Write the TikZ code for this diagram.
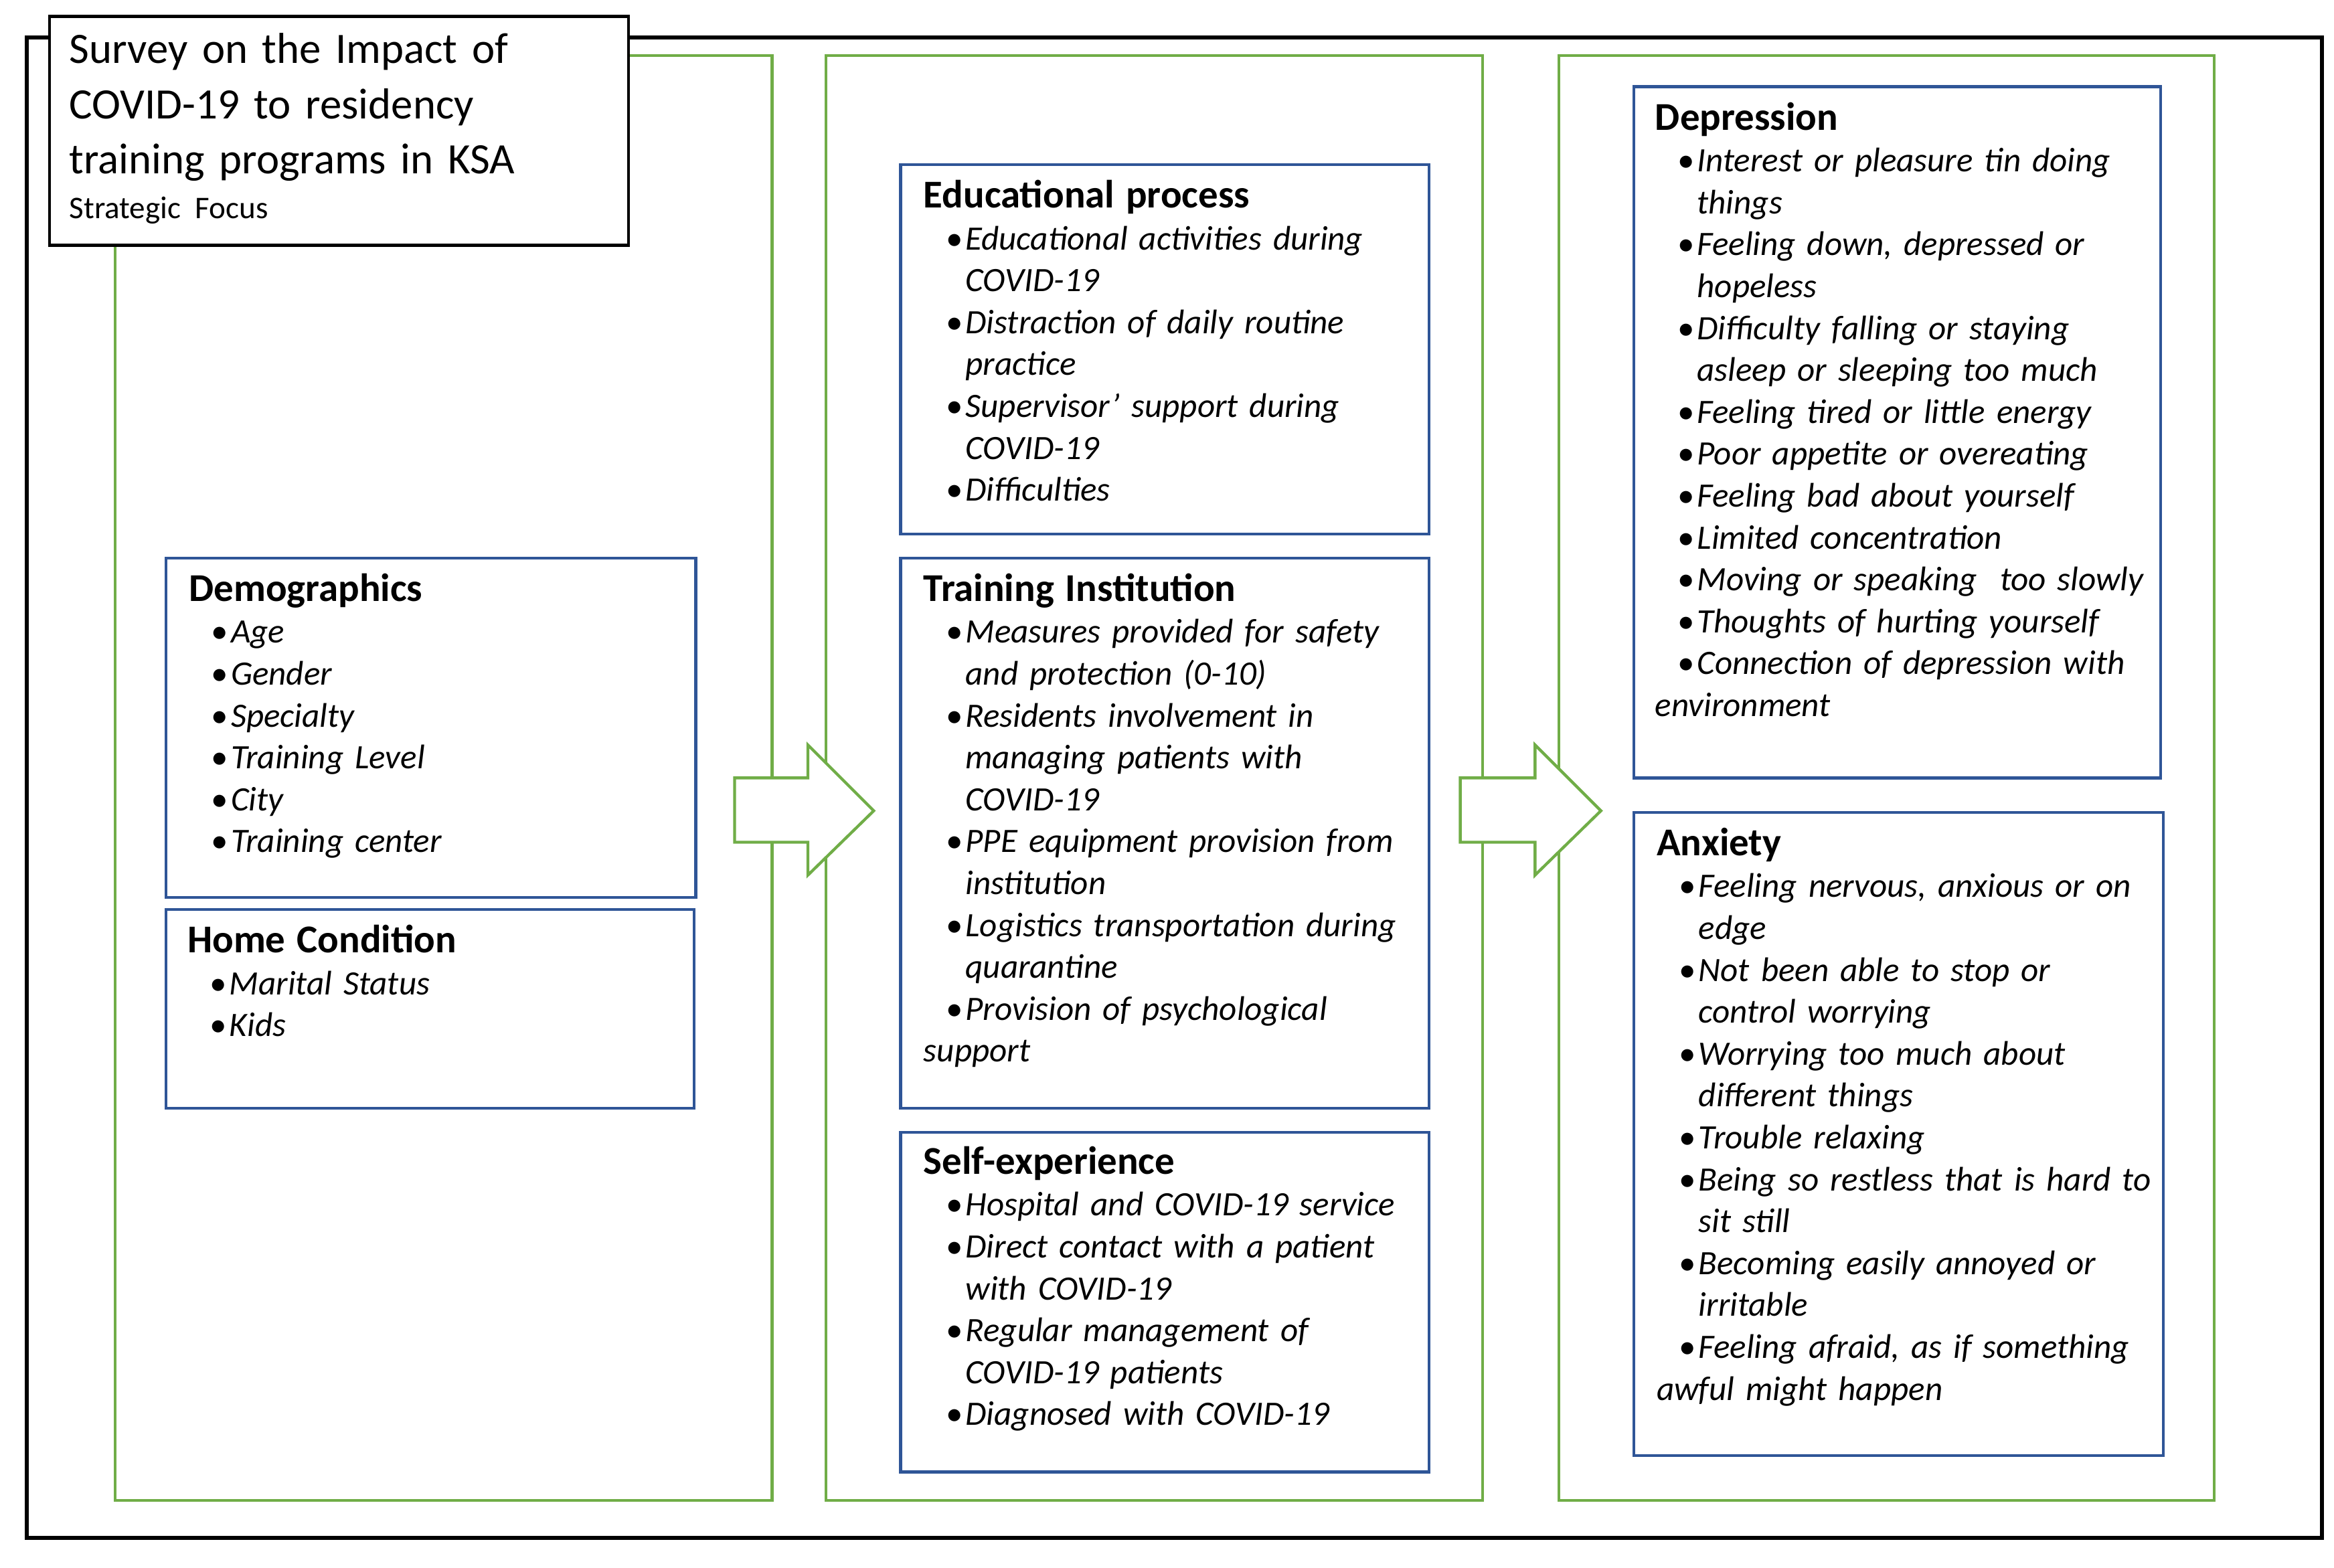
\documentclass[tikz,border=0pt]{standalone}
\usepackage{fontspec}
\setmainfont{Carlito}
\definecolor{gr}{RGB}{112,173,71}
\definecolor{bl}{RGB}{47,85,151}
\newcommand\bi[1]{\par\noindent\hangindent=0.56cm\hangafter=1\hspace*{0.3cm}\makebox[0.26cm][l]{\textbullet}\textit{#1}}
\newcommand\hd[1]{\noindent{\fontsize{15}{15.94}\selectfont\bfseries #1}}
\tikzset{
 gp/.style={draw=gr,line width=1.1pt},
 bp/.style={draw=bl,line width=1.1pt},
 tx/.style={anchor=north west,inner sep=0pt,text width=7.4cm,align=left,font=\fontsize{13}{15.94}\selectfont},
 ar/.style={draw=gr,line width=1.1pt,fill=white}
}
\begin{document}
\begin{tikzpicture}[x=0.02cm,y=-0.02cm]
\useasboundingbox (0,0) rectangle (1560,1048);
\draw[line width=1.4pt] (18,25) rectangle (1552,1028);
\draw[gp] (77,37) rectangle (516,1003);
\draw[gp] (552,37) rectangle (991,1003);
\draw[gp] (1042,37) rectangle (1480,1003);
\node[draw,line width=1.1pt,fill=white,anchor=north west,minimum width=387*0.02cm,minimum height=153*0.02cm,inner sep=0pt] (title) at (32,10) {};
\node[anchor=north west,inner sep=0pt,text width=7.4cm,align=left,font=\fontsize{16.5}{21}\selectfont] (tt) at (46,22) {Survey on the Impact of\\COVID-19 to residency\\training programs in KSA\\[-4pt]{\fontsize{12}{14}\selectfont Strategic Focus}};
% arrows
\draw[ar] (491,520) -- (540,520) -- (540,498) -- (584,542) -- (540,585) -- (540,563) -- (491,563) -- cycle;
\draw[ar] (976,520) -- (1026,520) -- (1026,498) -- (1070,542) -- (1026,585) -- (1026,563) -- (976,563) -- cycle;
% boxes
\draw[bp] (111,373) rectangle (465,600);
\draw[bp] (111,608) rectangle (464,741);
\draw[bp] (602,110) rectangle (955,357);
\draw[bp] (602,373) rectangle (955,741);
\draw[bp] (602,757) rectangle (955,984);
\draw[bp] (1092,58) rectangle (1444,520);
\draw[bp] (1092,543) rectangle (1446,973);
\node[tx] (demo) at (126,383) {\hd{Demographics}\bi{Age}\bi{Gender}\bi{Specialty}\bi{Training Level}\bi{City}\bi{Training center}};
\node[tx] (home) at (125,618) {\hd{Home Condition}\bi{Marital Status}\bi{Kids}};
\node[tx] (edu) at (617,120) {\hd{Educational process}\bi{Educational activities during\newline COVID-19}\bi{Distraction of daily routine\newline practice}\bi{Supervisor’ support during\newline COVID-19}\bi{Difficulties}};
\node[tx] (train) at (617,383) {\hd{Training Institution}\bi{Measures provided for safety\newline and protection (0-10)}\bi{Residents involvement in\newline managing patients with\newline COVID-19}\bi{PPE equipment provision from\newline institution}\bi{Logistics transportation during\newline quarantine}\bi{Provision of psychological\newline support}};
\node[tx] (self) at (617,766) {\hd{Self-experience}\bi{Hospital and COVID-19 service}\bi{Direct contact with a patient\newline with COVID-19}\bi{Regular management of\newline COVID-19 patients}\bi{Diagnosed with COVID-19}};
\node[tx] (dep) at (1106,68) {\hd{Depression}\bi{Interest or pleasure tin doing\newline things}\bi{Feeling down, depressed or\newline hopeless}\bi{Difficulty falling or staying\newline asleep or sleeping too much}\bi{Feeling tired or little energy}\bi{Poor appetite or overeating}\bi{Feeling bad about yourself}\bi{Limited concentration}\bi{Moving or speaking\ \ too slowly}\bi{Thoughts of hurting yourself}\bi{Connection of depression with\newline environment}};
\node[tx] (anx) at (1107,553) {\hd{Anxiety}\bi{Feeling nervous, anxious or on\newline edge}\bi{Not been able to stop or\newline control worrying}\bi{Worrying too much about\newline different things}\bi{Trouble relaxing}\bi{Being so restless that is hard to\newline sit still}\bi{Becoming easily annoyed or\newline irritable}\bi{Feeling afraid, as if something\newline awful might happen}};
\end{tikzpicture}
\end{document}
